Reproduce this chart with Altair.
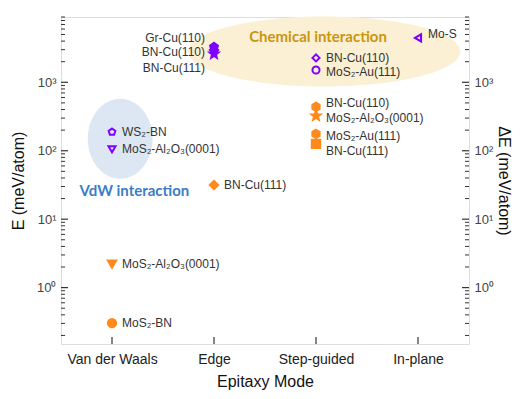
import math
import altair as alt
import pandas as pd

# ---------------- data ----------------
modes = ["Van der Waals", "Edge", "Step-guided", "In-plane"]

pt_mode = [0, 0, 0, 0, 1, 1, 1, 1, 2, 2, 2, 2, 2, 2, 3]
pt_value = [0.303, 2.21, 188, 105, 31.6, 3293, 2977, 2601, 2274, 1517, 437, 323, 176, 126, 4457]
pt_shape = ["circle", "triangle-down", "pentagon", "triangle-down", "diamond", "pentagon",
            "diamond", "star", "diamond", "circle", "hexagon", "star", "hexagon", "square",
            "triangle-left"]
pt_group = ["o", "o", "p", "p", "o", "p", "p", "p", "p", "p", "o", "o", "o", "o", "p"]
pt_filled = [True, True, False, False, True, True, True, True, False, False, True, True, True, True, False]

lab_text = ["Gr-Cu(110)", "BN-Cu(110)", "BN-Cu(111)", "BN-Cu(111)",
            "WS₂-BN", "MoS₂-Al₂O₃(0001)", "MoS₂-Al₂O₃(0001)", "MoS₂-BN",
            "Mo-S", "BN-Cu(110)", "MoS₂-Au(111)", "BN-Cu(110)",
            "MoS₂-Al₂O₃(0001)", "MoS₂-Au(111)", "BN-Cu(111)"]
lab_mode = [1, 1, 1, 1, 0, 0, 0, 0, 3, 2, 2, 2, 2, 2, 2]
lab_value = [4457, 2782, 1624, 31.6, 188, 105, 2.21, 0.303, 5100, 2274, 1419, 500, 302, 164, 99.3]
lab_side = ["r", "r", "r", "l", "l", "l", "l", "l", "l", "l", "l", "l", "l", "l", "l"]

region_text = ["Chemical interaction", "VdW interaction"]
region_mode = [2.02, 0.22]
region_value = [4550, 26]
region_ell_mode = [2.08, 0.08]
region_ell_value = [2825, 150]

major_ticks = [1, 10, 100, 1000]
minor_ticks = [0.2, 0.3, 0.4, 0.5, 0.6, 0.7, 0.8, 0.9,
               2, 3, 4, 5, 6, 7, 8, 9,
               20, 30, 40, 50, 60, 70, 80, 90,
               200, 300, 400, 500, 600, 700, 800, 900,
               2000, 3000, 4000, 5000, 6000, 7000, 8000, 9000]

# ---------------- styling ----------------
W, H = 408, 327
PURPLE = "#8000FF"
ORANGE = "#FF8A1C"
AXC = "#333333"
FONT = "Liberation Sans"

def poly(n, r_out=1.0, r_in=None):
    pts = []
    k = n * (2 if r_in else 1)
    for i in range(k):
        a = -math.pi / 2 + i * 2 * math.pi / k
        r = r_out if (r_in is None or i % 2 == 0) else r_in
        pts.append(f"{r*math.cos(a):.3f},{r*math.sin(a):.3f}")
    return "M" + "L".join(pts) + "Z"

SHAPES = {
    "pentagon": poly(5),
    "hexagon": poly(6),
    "star": poly(5, 1.15, 0.5),
}

xscale = alt.Scale(domain=[-0.5, 3.5], nice=False, zero=False)
yscale = alt.Scale(type="log", domain=[0.15, 9000], nice=False)

# ---------------- tables ----------------
colors = {"o": ORANGE, "p": PURPLE}
pts = pd.DataFrame({
    "mode": pt_mode,
    "value": pt_value,
    "shape": [SHAPES.get(s, s) for s in pt_shape],
    "stroke": [colors[g] for g in pt_group],
    "fill": [colors[g] if f else "transparent" for g, f in zip(pt_group, pt_filled)],
    "size": [70 if f else 50 for f in pt_filled],
})

labs = pd.DataFrame({"text": lab_text, "mode": lab_mode, "value": lab_value, "side": lab_side})

ell = pd.DataFrame({
    "mode": region_ell_mode,
    "value": region_ell_value,
    "shape": ["M-1,0A1,0.257,0,1,1,1,0A1,0.257,0,1,1,-1,0Z",
              "M-0.81,0A0.81,1,0,1,1,0.81,0A0.81,1,0,1,1,-0.81,0Z"],
    "size": [272 ** 2, 80 ** 2],
    "color": ["#FBF0D3", "#DCE7F3"],
})

regions = pd.DataFrame({"text": region_text, "mode": region_mode, "value": region_value,
                        "color": ["#C9960F", "#3A7DC6"]})

def X(axis=None):
    return alt.X("mode:Q", scale=xscale, axis=axis)

def Y(field="value:Q", axis=None):
    return alt.Y(field, scale=yscale, axis=axis)

ellipses = alt.Chart(ell).mark_point(filled=True, strokeWidth=0, opacity=1).encode(
    x=X(), y=Y(),
    shape=alt.Shape("shape:N", scale=None),
    size=alt.Size("size:Q", scale=None),
    fill=alt.Fill("color:N", scale=None),
)

region_labels = alt.Chart(regions).mark_text(font="Lato", fontWeight="bold", fontSize=15).encode(
    x=X(), y=Y(), text="text:N", color=alt.Color("color:N", scale=None)
)

points = alt.Chart(pts).mark_point(strokeWidth=2, opacity=1).encode(
    x=X(), y=Y(),
    shape=alt.Shape("shape:N", scale=None),
    size=alt.Size("size:Q", scale=None),
    fill=alt.Fill("fill:N", scale=None),
    stroke=alt.Stroke("stroke:N", scale=None),
)

labels_l = alt.Chart(labs).transform_filter("datum.side == 'l'").mark_text(
    align="left", dx=10, fontSize=12, font=FONT, color=AXC
).encode(x=X(), y=Y(), text="text:N")

labels_r = alt.Chart(labs).transform_filter("datum.side == 'r'").mark_text(
    align="right", dx=-9, fontSize=12, font=FONT, color=AXC
).encode(x=X(), y=Y(), text="text:N")

sup = ("datum.value == 1 ? '10⁰' : datum.value == 10 ? '10¹' : "
       "datum.value == 100 ? '10²' : '10³'")

def yaxis(orient, title, tpad):
    return alt.Axis(orient=orient, values=major_ticks, labelExpr=sup, ticks=False, domain=False,
                    grid=False, title=title, labelFont=FONT, labelFontSize=13, labelColor="#444",
                    labelPadding=5, titleFont=FONT, titleFontSize=16, titleFontWeight="normal",
                    titleColor="#111", titlePadding=tpad)

major_df = pd.DataFrame({"v": major_ticks})
minor_df = pd.DataFrame({"v": minor_ticks})

left_major = alt.Chart(major_df).mark_rule(color=AXC, strokeWidth=1.2).encode(
    y=Y("v:Q", yaxis("left", "E (meV/atom)", 10)), x=alt.value(0), x2=alt.value(7))
right_major = alt.Chart(major_df).mark_rule(color=AXC, strokeWidth=1.2).encode(
    y=Y("v:Q", yaxis("right", "ΔE (meV/atom)", 2)), x=alt.value(W), x2=alt.value(W - 7))
left_minor = alt.Chart(minor_df).mark_rule(color=AXC, strokeWidth=1).encode(
    y=Y("v:Q"), x=alt.value(0), x2=alt.value(4))
right_minor = alt.Chart(minor_df).mark_rule(color=AXC, strokeWidth=1).encode(
    y=Y("v:Q"), x=alt.value(W), x2=alt.value(W - 4))

mode_df = pd.DataFrame({"mode": list(range(len(modes)))})
xlab = "[" + ",".join(f"'{m}'" for m in modes) + "][datum.value]"
bottom_ticks = alt.Chart(mode_df).mark_rule(color=AXC, strokeWidth=1.2).encode(
    x=X(alt.Axis(values=list(range(len(modes))), labelExpr=xlab, ticks=False, domain=False,
                 grid=False, title="Epitaxy Mode", labelFont=FONT, labelFontSize=14,
                 labelColor="#222", labelPadding=8, titleFont=FONT, titleFontSize=16,
                 titleFontWeight="normal", titleColor="#111", titlePadding=7)),
    y=alt.value(H), y2=alt.value(H - 7),
)

chart = alt.layer(
    ellipses, region_labels, points, labels_l, labels_r,
    left_minor, right_minor, left_major, right_major, bottom_ticks,
).resolve_scale(y="shared", x="shared").resolve_axis(y="independent", x="independent").properties(
    width=W, height=H,
    autosize=alt.AutoSizeParams(type="none"),
    padding={"left": 53, "top": 9, "right": 45, "bottom": 54},
).configure_view(stroke=AXC, strokeWidth=1.5).configure(font=FONT)

chart.save("out.html", embed_options={"renderer": "svg", "actions": False})
